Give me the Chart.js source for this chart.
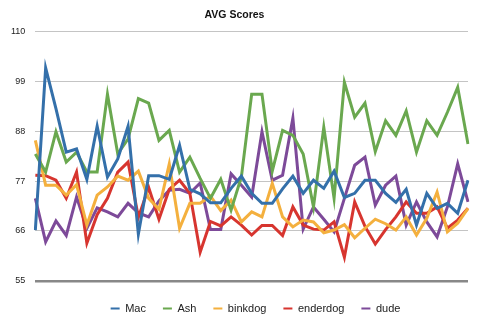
<!DOCTYPE html>
<html>
<head>
<meta charset="utf-8">
<script src="https://cdn.jsdelivr.net/npm/chart.js@4/dist/chart.umd.min.js"></script>
<style>
  html, body { margin: 0; padding: 0; background: #fff; }
  #wrap { width: 500px; height: 334px; }
</style>
</head>
<body>
<div id="wrap"><canvas id="scoresChart"></canvas></div>
<script>
// one entry per game, 43 games
const games = Array.from({ length: 43 }, (_, i) => 'Game ' + (i + 1));

const mac = [66.2, 102, 93, 83.4, 84.1, 77.4, 89.1, 77.9, 81.9, 89.1,
  65.3, 78.2, 78.2, 77.4, 84.9, 75.2, 74.2, 72.2, 72.2, 75.4,
  78.1, 74.3, 72.1, 72.1, 75.3, 78.1, 74.3, 77.2, 75.4, 79.2,
  73.4, 74.3, 77.2, 77.2, 74.3, 72.3, 75.2, 67.3, 74.3, 71,
  72.1, 69.9, 77.2];
const ash = [83, 79, 87.9, 81.2, 83.4, 79, 79, 96.2, 83, 86.3,
  95.2, 94.2, 86, 88.2, 79, 82.3, 77.6, 73.2, 77.4, 70.6,
  77.9, 96.2, 96.2, 79.2, 88.2, 87.1, 83, 71.3, 88.9, 73.2,
  98.8, 91.1, 94.2, 83.5, 90.3, 87.1, 92.5, 83.4, 90.3, 87.1,
  92.2, 97.7, 85.2];
const binkdog = [86, 76.1, 76.1, 73.9, 76.2, 67.3, 73.9, 75.7, 78.1, 77.2,
  79.2, 73.2, 70.8, 80.8, 66.6, 72.1, 72.1, 73.7, 70.5, 72.8,
  68, 70.2, 69.1, 76.5, 69.1, 66.9, 68.4, 68, 65.6, 66.2,
  67.4, 64.5, 66.6, 68.6, 67.6, 66.2, 69.1, 65.1, 68.8, 74.6,
  65.8, 67.7, 71];
const enderdog = [78.3, 78.2, 77.2, 73.2, 79, 63.3, 69.6, 73.2, 79, 81.2,
  69, 75.6, 68.6, 75.2, 77.2, 74.3, 61.3, 68.1, 67.1, 69.1,
  67.3, 65.1, 67.2, 67.2, 65, 71.3, 67.3, 66.4, 66.2, 68,
  60.2, 72.4, 67, 63.1, 66.3, 69.1, 72.4, 69.9, 69.9, 71.3,
  66.6, 68.4, 71];
const dude = [73.2, 63.6, 68.2, 65, 73.5, 66.6, 71.1, 70.2, 69.1, 72.1,
  70, 69.1, 72.6, 75, 75.2, 74.3, 76.6, 66.3, 66.3, 78.6,
  76.1, 73.5, 87.9, 77.2, 78.3, 90.9, 66.4, 71.3, 68.6, 65.8,
  73.2, 80.5, 82.3, 71.7, 76.1, 78.1, 67.3, 72.4, 68, 64.7,
  71.3, 80.8, 72.4];

const yTicks = [55, 66, 77, 88, 99, 110];

const seriesNames = ['Mac', 'Ash', 'binkdog', 'enderdog', 'dude'];
const seriesData = [mac, ash, binkdog, enderdog, dude];
const seriesColors = ['#3470aa', '#6aa84f', '#f4b03e', '#d7352f', '#7d4a99'];

// legend sits centred on the page rather than on the plot area
const legendShift = {
  id: 'legendShift',
  afterLayout(chart) {
    chart.legend.left += 21;
    chart.legend.right += 21;
  }
};

const ctx = document.getElementById('scoresChart').getContext('2d');

new Chart(ctx, {
  type: 'line',
  data: {
    labels: games,
    datasets: seriesNames.map((name, i) => ({
      label: name,
      data: seriesData[i],
      borderColor: seriesColors[i],
      backgroundColor: seriesColors[i],
      borderWidth: 3,
      pointRadius: 0,
      pointHoverRadius: 0,
      tension: 0,
      fill: false
    }))
  },
  options: {
    responsive: true,
    maintainAspectRatio: false,
    animation: false,
    layout: { padding: { left: 1, right: 32, top: 0, bottom: 10 } },
    plugins: {
      title: {
        display: true,
        text: 'AVG Scores',
        color: '#111',
        font: { family: 'Liberation Sans, Arial, sans-serif', size: 10.5, weight: 'bold' },
        padding: { top: 9, bottom: 10 }
      },
      legend: {
        position: 'bottom',
        // empty title only adds a gap above the legend row
        title: { display: true, text: '', font: { size: 1 }, padding: { top: 0, bottom: 4 } },
        labels: {
          usePointStyle: true,
          pointStyle: 'line',
          pointStyleWidth: 9,
          padding: 17,
          color: '#222',
          font: { family: 'Liberation Sans, Arial, sans-serif', size: 11 },
          generateLabels(chart) {
            const items = Chart.defaults.plugins.legend.labels.generateLabels(chart);
            items.forEach(it => { it.lineWidth = 2; });
            return items;
          }
        }
      },
      tooltip: { enabled: false }
    },
    scales: {
      x: {
        display: false,
        offset: false
      },
      y: {
        min: 55,
        max: 110,
        afterBuildTicks(scale) {
          scale.ticks = yTicks.map(v => ({ value: v }));
        },
        border: { display: false },
        grid: {
          drawTicks: false,
          color: c => c.tick && c.tick.value === 55 ? '#888' : '#c4c4c4',
          lineWidth: c => c.tick && c.tick.value === 55 ? 2.5 : 1
        },
        ticks: {
          padding: 10,
          color: '#222',
          font: { family: 'Liberation Sans, Arial, sans-serif', size: 9 }
        }
      }
    }
  },
  plugins: [legendShift]
});
</script>
</body>
</html>
